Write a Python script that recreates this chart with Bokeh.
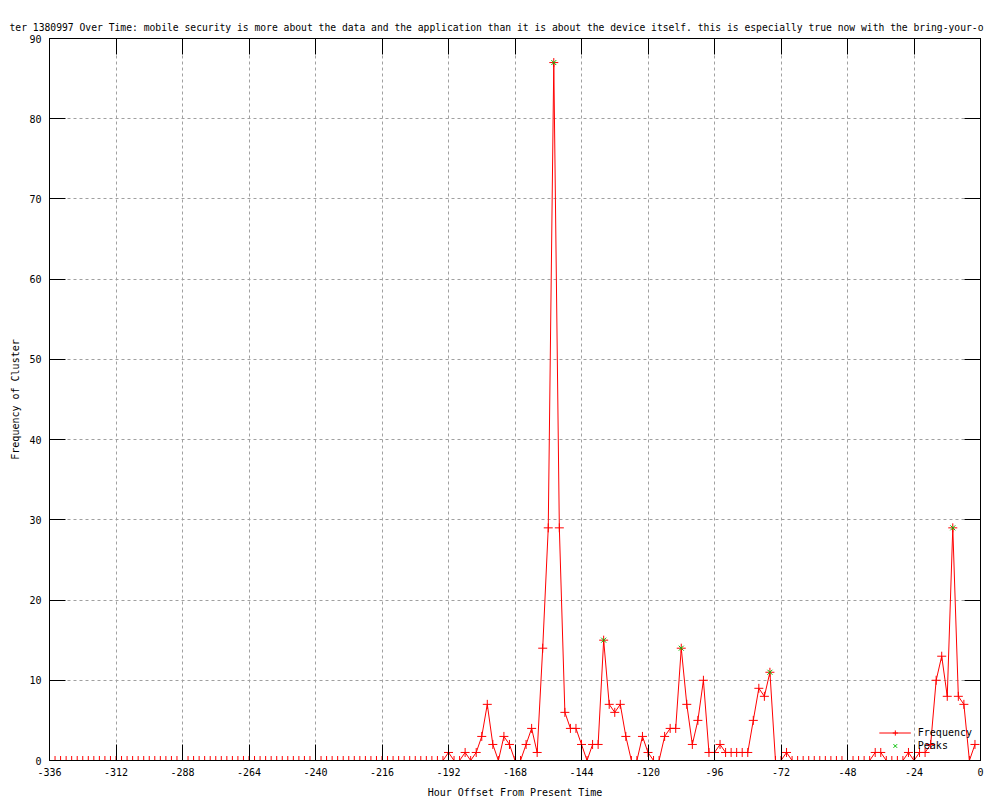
from bokeh.plotting import figure
from bokeh.models import (Range1d, FixedTicker, LinearAxis, Legend, LegendItem,
                          ColumnDataSource)
from bokeh.embed import file_html
from bokeh.resources import INLINE

# ---------------- data ----------------
hours = [
    -336, -334, -332, -330, -328, -326, -324, -322, -320, -318, -316, -314,
    -312, -310, -308, -306, -304, -302, -300, -298, -296, -294, -292, -290,
    -288, -286, -284, -282, -280, -278, -276, -274, -272, -270, -268, -266,
    -264, -262, -260, -258, -256, -254, -252, -250, -248, -246, -244, -242,
    -240, -238, -236, -234, -232, -230, -228, -226, -224, -222, -220, -218,
    -216, -214, -212, -210, -208, -206, -204, -202, -200, -198, -196, -194,
    -192, -190, -188, -186, -184, -182, -180, -178, -176, -174, -172, -170,
    -168, -166, -164, -162, -160, -158, -156, -154, -152, -150, -148, -146,
    -144, -142, -140, -138, -136, -134, -132, -130, -128, -126, -124, -122,
    -120, -118, -116, -114, -112, -110, -108, -106, -104, -102, -100, -98,
    -96, -94, -92, -90, -88, -86, -84, -82, -80, -78, -76, -74,
    -72, -70, -68, -66, -64, -62, -60, -58, -56, -54, -52, -50,
    -48, -46, -44, -42, -40, -38, -36, -34, -32, -30, -28, -26,
    -24, -22, -20, -18, -16, -14, -12, -10, -8, -6, -4, -2,
]
frequency = [
    0, 0, 0, 0, 0, 0, 0, 0, 0, 0, 0, 0,
    0, 0, 0, 0, 0, 0, 0, 0, 0, 0, 0, 0,
    0, 0, 0, 0, 0, 0, 0, 0, 0, 0, 0, 0,
    0, 0, 0, 0, 0, 0, 0, 0, 0, 0, 0, 0,
    0, 0, 0, 0, 0, 0, 0, 0, 0, 0, 0, 0,
    0, 0, 0, 0, 0, 0, 0, 0, 0, 0, 0, 0,
    1, 0, 0, 1, 0, 1, 3, 7, 2, 0, 3, 2,
    0, 0, 2, 4, 1, 14, 29, 87, 29, 6, 4, 4,
    2, 0, 2, 2, 15, 7, 6, 7, 3, 0, 0, 3,
    1, 0, 0, 3, 4, 4, 14, 7, 2, 5, 10, 1,
    1, 2, 1, 1, 1, 1, 1, 5, 9, 8, 11, 0,
    0, 1, 0, 0, 0, 0, 0, 0, 0, 0, 0, 0,
    0, 0, 0, 0, 0, 1, 1, 0, 0, 0, 0, 1,
    0, 1, 1, 2, 10, 13, 8, 29, 8, 7, 0, 2,
]
peak_hours = [-154, -136, -108, -76, -10]
peak_values = [87, 15, 14, 11, 29]

x_ticks = [-336, -312, -288, -264, -240, -216, -192, -168, -144, -120, -96, -72, -48, -24, 0]
x_tick_labels = ["-336", "-312", "-288", "-264", "-240", "-216", "-192", "-168",
                 "-144", "-120", "-96", "-72", "-48", "-24", "0"]
y_ticks = [0, 10, 20, 30, 40, 50, 60, 70, 80, 90]
y_tick_labels = ["0", "10", "20", "30", "40", "50", "60", "70", "80", "90"]

title_text = ("ter 1380997 Over Time: mobile security is more about the data and the "
              "application than it is about the device itself. this is especially true "
              "now with the bring-your-o")
x_label = "Hour Offset From Present Time"
y_label = "Frequency of Cluster"

FONT = "DejaVu Sans Mono"
RED = "#ff0000"
GREEN = "#00c000"
GRID = "#a0a0a0"

src = ColumnDataSource(dict(hour=hours, freq=frequency))
peak_src = ColumnDataSource(dict(hour=peak_hours, freq=peak_values))

p = figure(width=1000, height=800, output_backend="svg", toolbar_location=None,
           x_range=Range1d(-336, 0), y_range=Range1d(0, 90),
           min_border_left=49, min_border_right=20, min_border_top=38,
           min_border_bottom=40, title=title_text)
p.background_fill_color = "white"
p.border_fill_color = "white"
p.outline_line_color = "black"
p.outline_line_width = 1
p.outline_line_alpha = 1.0

p.title.text_font = FONT
p.title.text_font_size = "9.7px"
p.title.text_font_style = "normal"
p.title.text_color = "black"
p.title.align = "left"
p.title.offset = -40
p.title.standoff = 12

xt = FixedTicker(ticks=x_ticks)
yt = FixedTicker(ticks=y_ticks)


def style_axis(ax, ticker, labels_map, show_labels):
    ax.ticker = ticker
    ax.axis_line_color = "black"
    ax.major_tick_line_color = "black"
    ax.major_tick_in = 16
    ax.major_tick_out = 0
    ax.minor_tick_line_color = None
    ax.major_label_text_font = FONT
    ax.major_label_text_font_size = "10px"
    ax.major_label_text_color = "black"
    if show_labels:
        ax.major_label_overrides = labels_map
    else:
        ax.major_label_overrides = {t: "" for t in labels_map}
        ax.major_label_standoff = 0


xlab = dict(zip(x_ticks, x_tick_labels))
ylab = dict(zip(y_ticks, y_tick_labels))

xa = p.xaxis[0]
style_axis(xa, xt, xlab, True)
xa.major_label_standoff = 7
xa.axis_label = x_label
xa.axis_label_text_font = FONT
xa.axis_label_text_font_size = "10px"
xa.axis_label_text_font_style = "normal"
xa.axis_label_text_color = "black"
xa.axis_label_standoff = 8

ya = p.yaxis[0]
style_axis(ya, yt, ylab, True)
ya.major_label_standoff = 8
ya.axis_label = y_label
ya.axis_label_text_font = FONT
ya.axis_label_text_font_size = "10px"
ya.axis_label_text_font_style = "normal"
ya.axis_label_text_color = "black"
ya.axis_label_standoff = 5

top_ax = LinearAxis()
style_axis(top_ax, xt, xlab, False)
p.add_layout(top_ax, "above")
right_ax = LinearAxis()
style_axis(right_ax, yt, ylab, False)
p.add_layout(right_ax, "right")

p.xgrid.ticker = xt
p.ygrid.ticker = yt
for g in (p.xgrid, p.ygrid):
    g.grid_line_color = GRID
    g.grid_line_dash = "3 3"
    g.grid_line_width = 1

line_r = p.line("hour", "freq", source=src, line_color=RED, line_width=1)
pts_r = p.scatter("hour", "freq", source=src, marker="cross", size=9,
                  line_color=RED, line_width=1)
peak_r = p.scatter("hour", "freq", source=peak_src, marker="x", size=7,
                   line_color=GREEN, line_width=1)

legend = Legend(items=[LegendItem(label="Frequency", renderers=[line_r, pts_r]),
                       LegendItem(label="Peaks", renderers=[peak_r])],
                location="bottom_right")
legend.margin = 8
legend.padding = 0
legend.spacing = 0
legend.glyph_width = 32
legend.glyph_height = 13
legend.label_height = 13
legend.label_standoff = 7
legend.label_text_font = FONT
legend.label_text_font_size = "10px"
legend.label_text_color = "black"
legend.background_fill_alpha = 0
legend.border_line_alpha = 0
p.add_layout(legend)

open("out.html", "w").write(file_html(p, INLINE))
